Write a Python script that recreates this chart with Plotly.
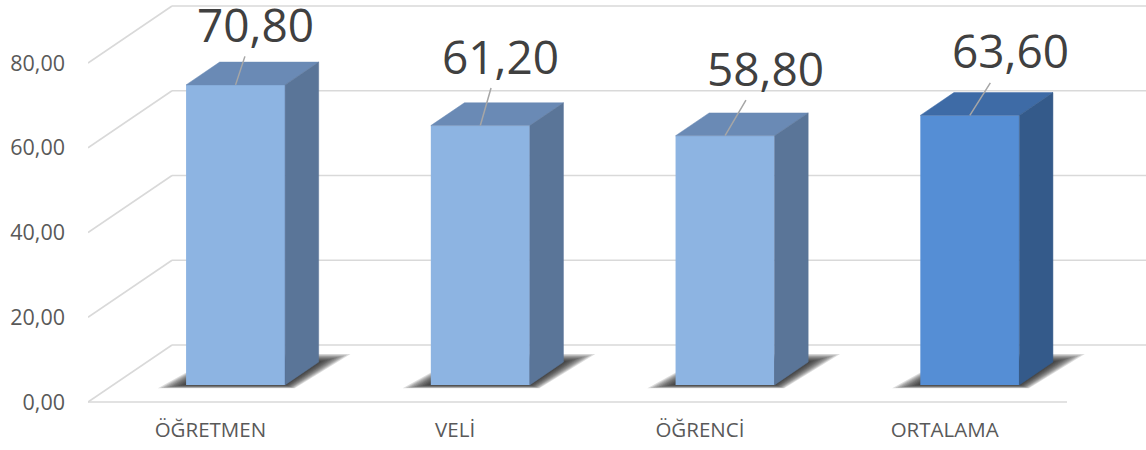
import plotly.graph_objects as go

# ---------------- data ----------------
CATEGORIES = ["ÖĞRETMEN", "VELİ", "ÖĞRENCİ", "ORTALAMA"]
VALUES = [70.80, 61.20, 58.80, 63.60]
Y_TICKS = [0, 20, 40, 60, 80]
Y_TICK_TEXT = ["0,00", "20,00", "40,00", "60,00", "80,00"]

# ---------------- style ----------------
FRONT = ["#8DB4E2", "#8DB4E2", "#8DB4E2", "#558ED5"]
TOP = ["#6A8AB5", "#6A8AB5", "#6A8AB5", "#3E6BA6"]
SIDE = ["#5A7598", "#5A7598", "#5A7598", "#345A8A"]
GRID = "#D9D9D9"
TXT = "#595959"
FONT = "Open Sans"
LABEL_OFFSETS = [(20, -61), (20, -70), (40, -68), (41, -65)]  # pixel offsets of value labels

W, H = 1146, 450
ML, MB = 88, 35
PX_PER_CAT = 244.75
PX_PER_UNIT = 4.2375
DEPTH_X = 84 / PX_PER_CAT     # oblique depth offset (x, category units)
DEPTH_Y = 57 / PX_PER_UNIT    # oblique depth offset (y, value units)
BAR_W = 99 / PX_PER_CAT
D0, D1 = 0.3, 0.7             # bar depth span within floor

X0 = -0.5
X_RANGE = [X0, X0 + (W - ML) / PX_PER_CAT]
Y_RANGE = [-(H - MB - 402) / PX_PER_UNIT, 402 / PX_PER_UNIT]


def proj(x, v, d):
    return x + d * DEPTH_X, v + d * DEPTH_Y


def path(pts):
    return "M " + " L ".join(f"{x:.5f},{y:.5f}" for x, y in pts) + " Z"


shapes = []
# back wall and side wall grid
n = len(CATEGORIES)
for t in Y_TICKS:
    a = proj(X0, t, 1)
    b = proj(X0 + n, t, 1)
    shapes.append(dict(type="line", xref="x", yref="y", x0=a[0], y0=a[1], x1=b[0], y1=b[1],
                       line=dict(color=GRID, width=1.6), layer="below"))
    c = proj(X0, t, 0)
    shapes.append(dict(type="line", xref="x", yref="y", x0=c[0], y0=c[1], x1=a[0], y1=a[1],
                       line=dict(color=GRID, width=1.6), layer="below"))
# floor front edge
fa, fb = proj(X0, 0, 0), proj(X0 + n, 0, 0)
shapes.append(dict(type="line", xref="x", yref="y", x0=fa[0], y0=fa[1], x1=fb[0], y1=fb[1],
                   line=dict(color=GRID, width=1.6), layer="below"))

# soft shadows on floor
hw = BAR_W / 2
NL = 10
for i in range(n):
    for k in range(NL):
        s = (NL - k) / NL
        el = s * 0.115     # spread to the left at the front
        er = s * 0.13      # spread to the right at the back
        eyb = s * 1.9      # spread towards the back
        eyf = s * 0.8      # spread towards the front
        pts = [proj(i - hw - el, -eyf, D0), proj(i + hw + er * 0.3, -eyf, D0),
               proj(i + hw + er, eyb, D1), proj(i - hw, eyb, D1)]
        shapes.append(dict(type="path", xref="x", yref="y", path=path(pts),
                           fillcolor="rgba(30,30,30,0.15)", line=dict(width=0), layer="below"))

fig = go.Figure()

# front faces
fig.add_trace(go.Bar(
    x=[i + D0 * DEPTH_X for i in range(n)], y=VALUES, base=D0 * DEPTH_Y,
    width=BAR_W, marker=dict(color=FRONT, line=dict(width=0)),
    hoverinfo="skip", showlegend=False))

# top and side faces
for i, v in enumerate(VALUES):
    top = [proj(i - hw, v, D0), proj(i + hw, v, D0), proj(i + hw, v, D1), proj(i - hw, v, D1)]
    side = [proj(i + hw, 0, D0), proj(i + hw, v, D0), proj(i + hw, v, D1), proj(i + hw, 0, D1)]
    for pts, col in ((top, TOP[i]), (side, SIDE[i])):
        xs = [p[0] for p in pts] + [pts[0][0]]
        ys = [p[1] for p in pts] + [pts[0][1]]
        fig.add_trace(go.Scatter(x=xs, y=ys, mode="lines", fill="toself", fillcolor=col,
                                 line=dict(width=0.5, color=col), hoverinfo="skip",
                                 showlegend=False))

annotations = []
for i, v in enumerate(VALUES):
    ax, ay = LABEL_OFFSETS[i]
    annotations.append(dict(
        x=i + D0 * DEPTH_X, y=v + D0 * DEPTH_Y, xref="x", yref="y",
        text=f"{v:.2f}".replace(".", ","), showarrow=True, arrowhead=0,
        arrowwidth=1.5, arrowcolor="#A6A6A6", ax=ax, ay=ay, standoff=0,
        font=dict(family=FONT, size=46, color="#404040")))

fig.update_layout(
    width=W, height=H, margin=dict(l=ML, r=0, t=0, b=MB),
    paper_bgcolor="white", plot_bgcolor="white",
    shapes=shapes, annotations=annotations, showlegend=False,
    xaxis=dict(range=X_RANGE, tickvals=list(range(n)), ticktext=CATEGORIES,
               showgrid=False, zeroline=False, showline=False, ticks="", automargin=False,
               tickfont=dict(family=FONT, size=20.5, color=TXT), ticklabelstandoff=0),
    yaxis=dict(range=Y_RANGE, tickvals=Y_TICKS, ticktext=Y_TICK_TEXT,
               showgrid=False, zeroline=False, showline=False, ticks="", automargin=False,
               tickfont=dict(family=FONT, size=21.5, color=TXT), ticklabelstandoff=22),
)

fig.write_html("out.html", config={"displayModeBar": False},
               post_script="document.body.style.margin='0';")
